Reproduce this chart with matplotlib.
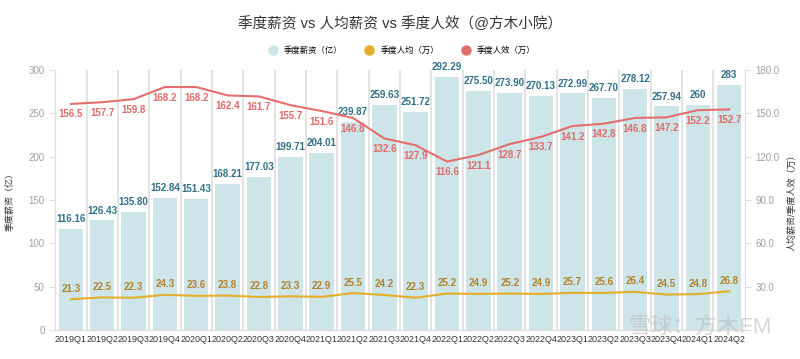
import matplotlib.pyplot as plt
import numpy as np

plt.rcParams['font.family'] = ['Liberation Sans', 'Noto Sans CJK SC', 'DejaVu Sans']

quarters = ['2019Q1', '2019Q2', '2019Q3', '2019Q4', '2020Q1', '2020Q2', '2020Q3', '2020Q4',
            '2021Q1', '2021Q2', '2021Q3', '2021Q4', '2022Q1', '2022Q2', '2022Q3', '2022Q4',
            '2023Q1', '2023Q2', '2023Q3', '2023Q4', '2024Q1', '2024Q2']
salary_total = [116.16, 126.43, 135.80, 152.84, 151.43, 168.21, 177.03, 199.71, 204.01, 239.87,
                259.63, 251.72, 292.29, 275.50, 273.90, 270.13, 272.99, 267.70, 278.12, 257.94,
                260, 283]
salary_total_labels = ['116.16', '126.43', '135.80', '152.84', '151.43', '168.21', '177.03',
                       '199.71', '204.01', '239.87', '259.63', '251.72', '292.29', '275.50',
                       '273.90', '270.13', '272.99', '267.70', '278.12', '257.94', '260', '283']
salary_avg = [21.3, 22.5, 22.3, 24.3, 23.6, 23.8, 22.8, 23.3, 22.9, 25.5, 24.2, 22.3,
              25.2, 24.9, 25.2, 24.9, 25.7, 25.6, 26.4, 24.5, 24.8, 26.8]
efficiency = [156.5, 157.7, 159.8, 168.2, 168.2, 162.4, 161.7, 155.7, 151.6, 146.8, 132.6, 127.9,
              116.6, 121.1, 128.7, 133.7, 141.2, 142.8, 146.8, 147.2, 152.2, 152.7]

bar_color = '#cde4e9'
bar_text = '#2f6f8a'
gold = '#e3ae2c'
gold_text = '#b0832a'
red = '#e36f6a'
red_text = '#e06a66'
grid_gray = '#dedede'
tick_gray = '#a0a0a0'

fig = plt.figure(figsize=(8, 3.59), dpi=100)
ax = fig.add_axes([0.069, 0.081, 0.862, 0.724])
ax2 = ax.twinx()

x = np.arange(len(quarters))
ax.bar(x, salary_total, width=0.78, color=bar_color, zorder=2)
for xi, v, s in zip(x, salary_total, salary_total_labels):
    ax.annotate(s, (xi, v), xytext=(0, 3.5), textcoords='offset points', ha='center', va='bottom',
                fontsize=7, color=bar_text, fontweight='bold', zorder=5)

ax.set_xlim(-0.5, len(quarters) - 0.5)
ax.set_ylim(0, 300)
ax.set_yticks(np.arange(0, 301, 50))
ax.set_xticks(x)
ax.set_xticklabels(quarters, fontsize=6.5, color='#333333')
ax.tick_params(axis='x', length=0, pad=4)
ax.tick_params(axis='y', labelsize=7, colors=tick_gray, length=4, color=grid_gray)
for b in np.arange(0.5, len(quarters) - 1, 1):
    ax.axvline(b, color=grid_gray, lw=1.2, zorder=1)
for sp in ['top']:
    ax.spines[sp].set_visible(False)
    ax2.spines[sp].set_visible(False)
for sp in ['left', 'right', 'bottom']:
    ax.spines[sp].set_color(grid_gray)
    ax2.spines[sp].set_color(grid_gray)
ax.set_ylabel('季度薪资（亿）', fontsize=6.5, color='#333333', labelpad=10)

ax2.plot(x, efficiency, color=red, lw=1.5, zorder=4)
ax2.plot(x, salary_avg, color=gold, lw=1.5, zorder=4)
for xi, v in zip(x, efficiency):
    ax2.annotate(f'{v:.1f}', (xi, v), xytext=(0, -4), textcoords='offset points', ha='center',
                 va='top', fontsize=7, color=red_text, fontweight='bold', zorder=5)
for xi, v in zip(x, salary_avg):
    ax2.annotate(f'{v:.1f}', (xi, v), xytext=(0, 4), textcoords='offset points', ha='center',
                 va='bottom', fontsize=7, color=gold_text, fontweight='bold', zorder=5)
ax2.set_ylim(0, 180)
ax2.set_yticks(np.arange(0, 181, 30))
ax2.set_yticklabels([''] + [f'{v:.1f}' for v in np.arange(30, 181, 30)])
ax2.tick_params(axis='y', labelsize=7, colors=tick_gray, length=4, color=grid_gray)
ax2.set_ylabel('人均薪资/季度人效（万）', fontsize=6.5, color='#333333', labelpad=6)

fig.text(0.5, 0.935, '季度薪资 vs 人均薪资 vs 季度人效（@方木小院）', ha='center', va='center',
         fontsize=10.5, color='#333333')

handles = [
    plt.Line2D([], [], marker='o', ls='', color=bar_color, markersize=6.5),
    plt.Line2D([], [], marker='o', ls='', color=gold, markersize=6.5),
    plt.Line2D([], [], marker='o', ls='', color=red, markersize=6.5),
]
fig.legend(handles, ['季度薪资（亿）', '季度人均（万）', '季度人效（万）'], loc='center',
           bbox_to_anchor=(0.5, 0.86), ncol=3, frameon=False, fontsize=6,
           handletextpad=0.3, columnspacing=2.2)

fig.text(0.875, 0.085, '雪球：方木FM', ha='center', va='center', fontsize=16,
         color='#bbbbbb', alpha=0.6)

fig.savefig('out.png', dpi=100)
